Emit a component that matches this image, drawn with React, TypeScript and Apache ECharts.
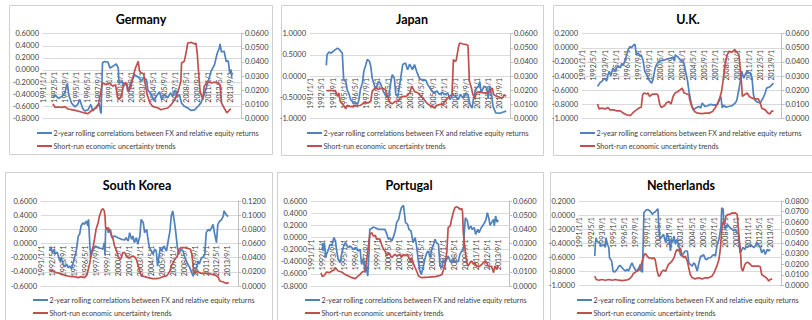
import React, { useEffect, useRef } from "react";
import * as echarts from "echarts";

// ---------- categories ----------
const START_YEAR = 1991;
const MONTH_COUNT = 288; // 1991/1 .. 2014/12
const months: string[] = Array.from(
  { length: MONTH_COUNT },
  (_, i) => `${START_YEAR + Math.floor(i / 12)}/${(i % 12) + 1}/1`
);

const seriesNames = [
  "2-year rolling correlations between FX and relative equity returns",
  "Short-run economic uncertainty trends",
];

// ---------- data: [month index from 1991/1, value] ----------
const germanyCorr = [[14,-0.46],[17,-0.41],[22,-0.47],[27,-0.44],[31,-0.38],[35,-0.22],[37,-0.41],[41,-0.55],[46,-0.61],[50,-0.57],[53,-0.49],[57,-0.63],[60,-0.68],[65,-0.66],[69,-0.57],[72,-0.68],[77,-0.61],[81,-0.55],[83,-0.68],[84,-0.72],[86,0.115],[89,0.14],[94,0.13],[97,0.03],[101,0.06],[106,0.1],[109,0.03],[110,-0.22],[114,-0.19],[117,-0.27],[121,-0.22],[123,-0.35],[128,-0.19],[133,-0.08],[138,-0.12],[143,-0.18],[146,-0.13],[150,-0.16],[152,-0.33],[157,-0.41],[161,-0.51],[164,-0.44],[169,-0.36],[172,-0.49],[176,-0.41],[181,-0.46],[185,-0.38],[188,-0.44],[192,-0.33],[195,-0.44],[198,-0.41],[201,-0.55],[205,-0.6],[210,-0.63],[215,-0.67],[220,-0.66],[225,-0.6],[229,-0.55],[234,-0.41],[239,-0.22],[244,-0.02],[249,0.09],[253,0.28],[256,0.36],[257,0.43],[259,0.3],[263,0.31],[266,0.14],[269,0.15],[271,-0.05],[273,0.005],[274,-0.13]];
const germanyUnc = [[14,0.0102],[17,0.0078],[22,0.008],[27,0.0078],[31,0.0083],[36,0.0066],[41,0.0061],[48,0.0054],[55,0.0045],[60,0.0038],[65,0.0033],[69,0.005],[72,0.0061],[77,0.0073],[80,0.0097],[86,0.025],[91,0.0239],[97,0.025],[101,0.0227],[105,0.0239],[108,0.0144],[111,0.0139],[114,0.0168],[117,0.025],[121,0.025],[123,0.0191],[127,0.0215],[130,0.0286],[134,0.0357],[138,0.0404],[140,0.0333],[143,0.0321],[146,0.0314],[148,0.025],[151,0.0168],[155,0.0109],[159,0.0085],[167,0.0073],[171,0.0061],[176,0.0068],[181,0.0073],[186,0.0097],[191,0.0132],[196,0.0191],[200,0.0262],[201,0.0392],[205,0.0404],[208,0.0475],[210,0.0534],[215,0.0539],[220,0.0527],[222,0.0534],[224,0.0451],[226,0.0309],[228,0.0191],[232,0.0132],[234,0.0227],[239,0.0262],[244,0.025],[249,0.0257],[254,0.025],[257,0.0239],[259,0.0109],[263,0.0073],[267,0.0038],[271,0.0061],[273,0.0066]];

const japanCorr = [[23,0.25],[24,0.5],[27,0.57],[30,0.54],[34,0.6],[39,0.66],[42,0.62],[46,0.54],[48,-0.09],[51,-0.13],[53,-0.32],[56,-0.44],[58,-0.56],[63,-0.64],[68,-0.66],[70,-0.56],[72,-0.32],[75,-0.17],[77,0.11],[80,0.27],[82,0.39],[85,0.35],[87,0.23],[89,-0.05],[94,-0.32],[98,-0.13],[101,-0.17],[105,-0.36],[109,-0.48],[113,-0.48],[116,-0.13],[118,0.03],[121,-0.05],[123,-0.44],[126,-0.48],[129,-0.17],[133,0.27],[137,0.31],[140,0.15],[143,0.28],[147,0.15],[150,0.27],[153,0.11],[157,-0.05],[162,-0.11],[166,-0.09],[169,-0.2],[172,-0.28],[175,-0.36],[179,-0.4],[182,-0.35],[186,-0.44],[190,-0.38],[193,-0.44],[198,-0.4],[201,-0.56],[205,-0.44],[209,-0.48],[213,-0.56],[216,-0.43],[220,-0.52],[224,-0.4],[227,-0.44],[230,-0.68],[233,-0.76],[235,-0.52],[238,-0.32],[242,-0.24],[244,-0.13],[246,-0.4],[250,-0.24],[254,-0.28],[256,-0.52],[258,-0.24],[261,-0.44],[263,-0.72],[267,-0.87],[273,-0.88],[278,-0.85],[282,-0.83]];
const japanUnc = [[23,0.0196],[27,0.0196],[31,0.0196],[36,0.0196],[39,0.0156],[41,0.018],[43,0.012],[48,0.0092],[51,0.0068],[53,0.0092],[58,0.0083],[65,0.009],[72,0.0092],[77,0.0109],[82,0.0109],[87,0.012],[89,0.0191],[94,0.022],[98,0.0204],[103,0.0215],[108,0.0204],[111,0.0156],[114,0.0116],[118,0.0102],[122,0.012],[126,0.012],[130,0.0149],[134,0.0156],[138,0.0156],[143,0.018],[146,0.0227],[150,0.0191],[155,0.018],[159,0.0156],[164,0.0132],[169,0.0102],[174,0.0085],[179,0.0073],[182,0.0092],[186,0.0097],[191,0.0102],[196,0.0132],[200,0.0156],[204,0.0168],[206,0.0416],[208,0.0404],[210,0.0409],[213,0.0498],[215,0.0534],[220,0.0527],[225,0.0522],[227,0.0517],[229,0.0262],[232,0.0215],[234,0.0168],[237,0.0144],[239,0.018],[244,0.0187],[249,0.018],[254,0.018],[258,0.0187],[262,0.0215],[264,0.0168],[268,0.0156],[273,0.0149],[277,0.0144],[279,0.0168],[282,0.0156]];

const ukCorr = [[22,-0.546],[25,-0.5],[28,-0.475],[32,-0.43],[35,-0.47],[37,-0.38],[39,-0.33],[41,-0.4],[44,-0.29],[47,-0.32],[51,-0.26],[55,-0.28],[57,-0.22],[59,-0.25],[62,-0.17],[64,-0.1],[66,-0.03],[69,0.02],[71,0],[74,0.04],[76,0.05],[78,-0.1],[81,-0.07],[83,-0.12],[85,-0.1],[88,-0.19],[90,-0.33],[94,-0.4],[96,-0.45],[100,-0.5],[102,-0.45],[105,-0.29],[107,-0.24],[111,-0.19],[114,-0.18],[119,-0.17],[124,-0.155],[128,-0.145],[131,-0.135],[133,-0.19],[134,-0.1],[138,-0.13],[140,-0.155],[143,-0.19],[145,-0.17],[147,-0.24],[150,-0.38],[152,-0.475],[154,-0.62],[157,-0.78],[160,-0.88],[164,-0.85],[168,-0.83],[171,-0.85],[173,-0.78],[177,-0.83],[181,-0.82],[185,-0.8],[190,-0.81],[195,-0.8],[197,-0.74],[200,-0.69],[202,-0.85],[204,-0.81],[207,-0.84],[211,-0.83],[216,-0.82],[221,-0.78],[223,-0.74],[226,-0.59],[228,-0.475],[230,-0.33],[233,-0.43],[235,-0.38],[238,-0.33],[240,-0.35],[242,-0.35],[245,-0.43],[247,-0.66],[249,-0.74],[253,-0.77],[257,-0.78],[259,-0.74],[261,-0.71],[264,-0.64],[266,-0.57],[271,-0.55],[276,-0.5]];
const ukUnc = [[22,0.0102],[24,0.0068],[28,0.0073],[33,0.0068],[37,0.0078],[40,0.0061],[45,0.0061],[50,0.0054],[55,0.0054],[59,0.0038],[64,0.0026],[69,0.0021],[71,0.003],[74,0.0045],[78,0.0061],[83,0.0078],[85,0.0078],[87,0.0168],[89,0.018],[93,0.0173],[95,0.018],[97,0.0156],[100,0.0168],[102,0.0173],[107,0.0173],[109,0.0168],[112,0.0097],[114,0.0078],[119,0.0092],[121,0.0109],[125,0.012],[128,0.0102],[131,0.0156],[134,0.018],[138,0.0191],[141,0.0203],[144,0.0215],[147,0.018],[151,0.0173],[154,0.0168],[155,0.0132],[158,0.0085],[162,0.005],[166,0.0038],[173,0.0035],[178,0.0038],[183,0.0038],[188,0.005],[192,0.0078],[197,0.012],[201,0.0191],[203,0.0262],[206,0.038],[209,0.0451],[212,0.0475],[216,0.047],[220,0.0487],[223,0.047],[226,0.0451],[228,0.0357],[230,0.0239],[231,0.0156],[234,0.0168],[238,0.018],[241,0.0156],[245,0.0144],[249,0.0139],[254,0.0139],[257,0.0109],[259,0.0073],[264,0.0061],[268,0.0038],[271,0.0033],[273,0.005],[276,0.0054]];

const koreaCorr = [[12,-0.106],[14,-0.045],[16,-0.13],[19,-0.08],[20,-0.15],[23,-0.12],[25,-0.18],[27,-0.25],[29,-0.2],[32,-0.29],[34,-0.33],[37,-0.29],[39,-0.34],[41,-0.32],[44,-0.355],[46,-0.29],[49,-0.18],[51,-0.105],[54,0.106],[56,0.13],[58,0.247],[61,0.294],[63,0.27],[66,0.318],[68,0.247],[69,0.34],[71,-0.035],[72,-0.2],[76,-0.08],[79,-0.035],[83,-0.06],[88,-0.07],[90,-0.08],[92,0.01],[93,-0.153],[94,0.2],[96,0.224],[98,0.153],[101,0.2],[103,0.082],[107,0.106],[112,0.082],[117,0.059],[122,0.05],[124,0.082],[127,0.035],[129,0.153],[132,0.059],[134,0.106],[136,0.012],[139,0.082],[141,-0.012],[144,0.106],[146,0.34],[149,0.294],[151,0.153],[154,0.2],[156,0.059],[158,-0.06],[161,-0.106],[163,-0.153],[166,-0.08],[168,-0.106],[170,-0.32],[172,-0.18],[174,-0.06],[176,-0.106],[179,-0.035],[183,-0.106],[185,0.012],[188,0.176],[190,0.388],[192,0.459],[194,0.34],[196,0.2],[199,-0.06],[201,-0.15],[204,-0.08],[207,-0.106],[210,-0.2],[212,-0.247],[214,-0.29],[217,-0.34],[219,-0.39],[222,-0.46],[224,-0.41],[227,-0.34],[229,-0.247],[231,-0.29],[234,-0.2],[236,-0.2],[239,-0.153],[241,0.153],[244,0.2],[246,0.176],[249,0.224],[251,0.27],[253,0.153],[256,0.012],[258,0.27],[261,0.318],[263,0.33],[266,0.388],[267,0.459],[270,0.412],[273,0.38]];
const koreaUnc = [[12,0.0226],[17,0.0212],[22,0.0188],[27,0.0179],[32,0.016],[34,0.0151],[39,0.0141],[44,0.0132],[49,0.0132],[54,0.0118],[58,0.0132],[63,0.0118],[66,0.015],[68,0.0212],[71,0.033],[73,0.047],[76,0.0565],[78,0.068],[80,0.08],[83,0.0894],[85,0.0988],[88,0.1073],[90,0.1092],[92,0.106],[93,0.0988],[94,0.0824],[96,0.08],[98,0.0824],[101,0.0753],[105,0.0659],[107,0.0565],[110,0.0494],[112,0.0424],[115,0.0376],[117,0.04],[119,0.047],[122,0.047],[124,0.0424],[127,0.04],[129,0.04],[134,0.0424],[136,0.0414],[139,0.0376],[141,0.0306],[144,0.0212],[146,0.0141],[151,0.0132],[156,0.0118],[163,0.0104],[168,0.0104],[173,0.0113],[178,0.0132],[183,0.0141],[185,0.0165],[188,0.0212],[190,0.0282],[195,0.0376],[199,0.0424],[201,0.0518],[204,0.0541],[210,0.0541],[214,0.0532],[218,0.0518],[220,0.0447],[222,0.0282],[223,0.0188],[225,0.0179],[228,0.0212],[231,0.0188],[234,0.0179],[239,0.0179],[244,0.0179],[249,0.0165],[253,0.016],[258,0.0132],[261,0.0071],[266,0.0056],[270,0.0038],[274,0.0047]];

const portugalCorr = [[16,-0.087],[17,-0.224],[19,-0.087],[21,-0.334],[22,-0.28],[25,-0.197],[27,-0.114],[30,-0.14],[32,-0.032],[33,-0.004],[35,-0.059],[37,-0.224],[39,-0.36],[42,-0.416],[44,-0.28],[47,-0.14],[49,-0.087],[51,-0.114],[54,-0.17],[56,-0.14],[59,-0.17],[61,-0.197],[64,-0.17],[66,-0.197],[68,-0.224],[71,-0.197],[73,-0.444],[76,-0.334],[78,-0.58],[80,-0.47],[82,-0.636],[84,-0.224],[85,0.133],[88,0.149],[90,0.171],[93,0.16],[97,0.133],[102,0.133],[107,0.133],[110,0.05],[112,-0.032],[114,-0.004],[117,-0.059],[119,-0.004],[122,0.105],[124,0.243],[127,0.298],[129,0.408],[131,0.49],[134,0.529],[135,0.435],[137,0.243],[140,0.215],[142,0.133],[145,0.105],[148,-0.087],[151,-0.004],[153,-0.14],[156,-0.416],[158,-0.554],[160,-0.61],[163,-0.47],[165,-0.36],[168,-0.25],[170,-0.224],[173,-0.334],[175,-0.197],[177,-0.14],[180,-0.032],[182,-0.087],[185,-0.114],[187,-0.47],[190,-0.5],[192,-0.36],[194,-0.416],[197,-0.36],[199,-0.307],[202,-0.39],[204,-0.416],[207,-0.36],[209,-0.39],[211,-0.406],[214,-0.39],[216,-0.28],[219,-0.224],[221,-0.197],[223,0.16],[224,0.325],[227,0.27],[229,0.133],[232,0.188],[234,0.133],[237,0.16],[239,0.05],[242,0.133],[244,0.078],[247,0.16],[249,0.188],[252,0.243],[254,0.298],[256,0.408],[258,0.325],[260,0.199],[262,0.243],[265,0.298],[266,0.188],[268,0.353],[270,0.254],[272,0.287]];
const portugalUnc = [[14,0.0094],[16,0.0066],[19,0.0075],[22,0.0099],[26,0.0094],[30,0.0106],[33,0.0113],[35,0.0129],[39,0.0106],[44,0.0099],[49,0.0082],[54,0.0071],[59,0.0059],[64,0.0052],[67,0.0066],[71,0.0082],[74,0.0099],[78,0.0106],[80,0.0165],[83,0.0282],[85,0.0365],[88,0.0376],[90,0.0353],[93,0.0358],[95,0.0329],[97,0.0334],[100,0.0329],[102,0.0294],[105,0.0259],[107,0.0247],[110,0.0212],[112,0.0235],[114,0.0224],[117,0.02],[119,0.0212],[122,0.0224],[124,0.0212],[129,0.0224],[131,0.02],[134,0.0224],[136,0.0212],[139,0.0224],[141,0.0212],[144,0.0176],[146,0.02],[148,0.0165],[151,0.0129],[153,0.0106],[156,0.0071],[160,0.0059],[170,0.0062],[180,0.0066],[185,0.0071],[190,0.0082],[194,0.0141],[197,0.0235],[199,0.0412],[202,0.0424],[204,0.0471],[207,0.0529],[209,0.0553],[211,0.056],[214,0.0553],[216,0.0541],[219,0.0546],[220,0.0518],[221,0.0376],[224,0.0247],[226,0.0165],[228,0.0141],[231,0.0165],[233,0.0176],[236,0.0153],[238,0.0165],[240,0.0141],[243,0.0136],[245,0.0141],[248,0.0153],[250,0.0165],[253,0.0176],[255,0.0165],[257,0.0141],[258,0.0136],[262,0.0141],[265,0.0094],[267,0.0141],[270,0.0118],[272,0.0146]];

const netherlandsCorr = [[22,-0.582],[23,-0.39],[24,-0.32],[25,-0.37],[28,-0.39],[30,-0.416],[32,-0.44],[35,-0.416],[37,-0.46],[38,-0.32],[40,-0.416],[42,-0.46],[43,-0.606],[46,-0.65],[48,-0.795],[50,-0.81],[54,-0.77],[56,-0.73],[58,-0.715],[61,-0.748],[63,-0.77],[66,-0.795],[68,-0.77],[70,-0.795],[73,-0.724],[75,-0.677],[77,-0.724],[80,-0.78],[82,-0.795],[85,-0.748],[87,-0.7],[88,-0.795],[90,-0.81],[92,0.034],[94,0.058],[96,0.08],[99,0.07],[101,0.058],[104,0.01],[106,0.034],[108,0.043],[111,0.08],[112,0.09],[114,-0.274],[115,-0.345],[118,-0.3],[120,-0.274],[123,-0.39],[125,-0.274],[127,-0.3],[130,-0.51],[131,-0.345],[133,-0.39],[135,-0.3],[137,-0.416],[139,-0.345],[142,-0.44],[144,-0.56],[146,-0.582],[149,-0.535],[151,-0.51],[154,-0.51],[156,-0.677],[158,-0.7],[161,-0.724],[163,-0.677],[165,-0.7],[168,-0.795],[170,-0.7],[173,-0.582],[175,-0.582],[177,-0.56],[180,-0.63],[182,-0.63],[184,-0.606],[187,-0.606],[189,-0.582],[192,-0.56],[194,-0.582],[196,-0.44],[199,-0.345],[201,-0.227],[202,-0.155],[203,0.105],[205,0.082],[206,-0.108],[208,-0.203],[211,-0.132],[213,-0.155],[215,-0.18],[218,-0.203],[220,-0.227],[222,-0.203],[225,-0.25],[227,-0.274],[229,-0.535],[231,-0.51],[233,-0.46],[236,-0.487],[238,-0.44],[240,-0.46],[244,-0.416],[246,-0.44],[249,-0.46],[251,-0.43],[253,-0.39],[256,-0.44],[258,-0.46],[260,-0.535],[263,-0.487],[265,-0.56],[268,-0.487],[270,-0.51],[272,-0.487]];
const netherlandsUnc = [[22,0.0088],[24,0.0057],[28,0.005],[32,0.0057],[37,0.005],[42,0.0057],[47,0.005],[51,0.0057],[56,0.005],[61,0.0047],[66,0.005],[70,0.0057],[73,0.0073],[75,0.0088],[77,0.0114],[80,0.0126],[82,0.0136],[85,0.0145],[87,0.0167],[89,0.0215],[92,0.0285],[94,0.0304],[96,0.0285],[99,0.0262],[101,0.0262],[104,0.0253],[106,0.0262],[108,0.0247],[111,0.0136],[113,0.0088],[115,0.0095],[118,0.0136],[120,0.0145],[123,0.0136],[125,0.0168],[127,0.02],[130,0.0215],[132,0.0231],[135,0.0262],[137,0.0309],[139,0.0341],[142,0.0326],[144,0.0357],[146,0.0294],[149,0.0262],[151,0.0278],[154,0.0231],[156,0.0168],[158,0.0104],[161,0.0073],[165,0.0063],[170,0.0073],[175,0.0063],[180,0.0073],[184,0.0073],[189,0.0088],[192,0.012],[194,0.0152],[196,0.0183],[199,0.0247],[201,0.0341],[202,0.0436],[204,0.0594],[207,0.0579],[209,0.0658],[212,0.0674],[215,0.0674],[218,0.0689],[220,0.0683],[222,0.0689],[225,0.0674],[226,0.0594],[228,0.0436],[230,0.0294],[231,0.0167],[233,0.0136],[236,0.0199],[238,0.0215],[240,0.0221],[244,0.0199],[246,0.0183],[251,0.0183],[256,0.0183],[258,0.0177],[260,0.0104],[263,0.0088],[265,0.0082],[268,0.0063],[270,0.0041],[272,0.0057],[275,0.0063]];

// ---------- axis ranges [min, max, interval] ----------
const germanyLeftAxis = [-0.8, 0.6, 0.2];
const japanLeftAxis = [-1, 1, 0.5];
const ukLeftAxis = [-1, 0.2, 0.2];
const koreaLeftAxis = [-0.6, 0.6, 0.2];
const portugalLeftAxis = [-0.8, 0.6, 0.2];
const netherlandsLeftAxis = [-1, 0.2, 0.2];
const rightAxis06 = [0, 0.06, 0.01];
const rightAxis12 = [0, 0.12, 0.02];
const rightAxis08 = [0, 0.08, 0.01];

const FONT = "Lato, 'Liberation Sans', Arial, sans-serif";
const BLUE = "#4F81BD";
const RED = "#C0504D";
const TEXT = "#404040";
const COLORS = [BLUE, RED];

const panels = [
  { title: "Germany", corr: germanyCorr, unc: germanyUnc, la: germanyLeftAxis, ra: rightAxis06,
    box: [9, 5, 263, 149], grid: [43, 33.7, 198, 84.6], titleXY: [141, 19.5], legendXY: [37, 133] },
  { title: "Japan", corr: japanCorr, unc: japanUnc, la: japanLeftAxis, ra: rightAxis06,
    box: [281, 5, 262, 150], grid: [310, 33.7, 200, 84.6], titleXY: [412, 19.5], legendXY: [307, 133] },
  { title: "U.K.", corr: ukCorr, unc: ukUnc, la: ukLeftAxis, ra: rightAxis06,
    box: [553, 5, 270, 150], grid: [582, 33.7, 202, 84.8], titleXY: [688, 19.5], legendXY: [580, 133] },
  { title: "South Korea", corr: koreaCorr, unc: koreaUnc, la: koreaLeftAxis, ra: rightAxis12,
    box: [5, 172, 267, 160], grid: [41, 201, 197, 85], titleXY: [137, 185], legendXY: [33, 300] },
  { title: "Portugal", corr: portugalCorr, unc: portugalUnc, la: portugalLeftAxis, ra: rightAxis06,
    box: [277, 172, 266, 160], grid: [311, 201, 198, 85], titleXY: [409, 185], legendXY: [305, 300] },
  { title: "Netherlands", corr: netherlandsCorr, unc: netherlandsUnc, la: netherlandsLeftAxis, ra: rightAxis08,
    box: [550, 172, 270, 160], grid: [579, 201, 202, 84.5], titleXY: [681, 185], legendXY: [577, 300] },
];

const fmt = (v: number) => (Math.abs(v) < 1e-10 ? 0 : v).toFixed(4);

function buildOption() {
  const grid: any[] = [];
  const xAxis: any[] = [];
  const yAxis: any[] = [];
  const series: any[] = [];
  const graphic: any[] = [];
  panels.forEach((p, i) => {
    const [gl, gt, gw, gh] = p.grid;
    grid.push({ left: gl, top: gt, width: gw, height: gh });
    // the category axis crosses the left value axis at zero
    const zeroOffset = -(gh * (0 - p.la[0])) / (p.la[1] - p.la[0]);
    xAxis.push({
      type: "category", gridIndex: i, data: months, boundaryGap: true,
      position: "bottom", offset: zeroOffset,
      axisLine: { onZero: false, lineStyle: { color: "#d9d9d9", width: 1 } },
      axisTick: { show: false },
      axisLabel: { rotate: 90, interval: 15, fontSize: 7, color: TEXT, fontFamily: FONT, margin: 2 },
      splitLine: { show: false },
    });
    yAxis.push({
      type: "value", gridIndex: i, position: "left", min: p.la[0], max: p.la[1], interval: p.la[2],
      axisLine: { show: false }, axisTick: { show: false },
      splitLine: { show: true, lineStyle: { color: "#d9d9d9", width: 1 } },
      axisLabel: { formatter: fmt, fontSize: 7.5, color: TEXT, fontFamily: FONT, margin: 4 },
    });
    yAxis.push({
      type: "value", gridIndex: i, position: "right", min: p.ra[0], max: p.ra[1], interval: p.ra[2],
      axisLine: { show: true, onZero: false, lineStyle: { color: "#bfbfbf", width: 1 } },
      axisTick: { show: true, length: 3, lineStyle: { color: "#bfbfbf" } },
      splitLine: { show: false },
      axisLabel: { formatter: fmt, fontSize: 7.5, color: TEXT, fontFamily: FONT, margin: 4 },
    });
    series.push({
      type: "line", name: seriesNames[0], xAxisIndex: i, yAxisIndex: 2 * i, data: p.corr,
      symbol: "none", showSymbol: false, lineStyle: { color: BLUE, width: 1.7 }, itemStyle: { color: BLUE },
    });
    series.push({
      type: "line", name: seriesNames[1], xAxisIndex: i, yAxisIndex: 2 * i + 1, data: p.unc,
      symbol: "none", showSymbol: false, lineStyle: { color: RED, width: 1.7 }, itemStyle: { color: RED },
    });
    graphic.push({
      type: "rect", z: -10, silent: true,
      shape: { x: p.box[0] + 0.5, y: p.box[1] + 0.5, width: p.box[2], height: p.box[3] },
      style: { fill: "#ffffff", stroke: "#d0d0d0", lineWidth: 1 },
    });
    graphic.push({
      type: "text", x: p.titleXY[0], y: p.titleXY[1],
      style: { text: p.title, fontSize: 12.5, fontWeight: "bold", fontFamily: FONT, fill: "#000",
        align: "center", verticalAlign: "middle" },
    });
    seriesNames.forEach((name, k) => {
      const ly = p.legendXY[1] + k * 13;
      graphic.push({
        type: "line", silent: true,
        shape: { x1: p.legendXY[0], y1: ly, x2: p.legendXY[0] + 15, y2: ly },
        style: { stroke: COLORS[k], lineWidth: 2 },
      });
      graphic.push({
        type: "text", x: p.legendXY[0] + 16.5, y: ly,
        style: { text: name, fontSize: 7.2, fontFamily: FONT, fill: TEXT, align: "left", verticalAlign: "middle" },
      });
    });
  });
  return { animation: false, backgroundColor: "#ffffff", grid, xAxis, yAxis, series, graphic };
}

export default function App() {
  const ref = useRef<HTMLDivElement>(null);
  useEffect(() => {
    if (!ref.current) return;
    const chart = echarts.init(ref.current, undefined, { renderer: "svg" });
    chart.setOption(buildOption());
    return () => chart.dispose();
  }, []);
  return (
    <div
      ref={ref}
      style={{ position: "fixed", left: 0, top: 0, width: 812, height: 320, background: "#fff" }}
    />
  );
}
